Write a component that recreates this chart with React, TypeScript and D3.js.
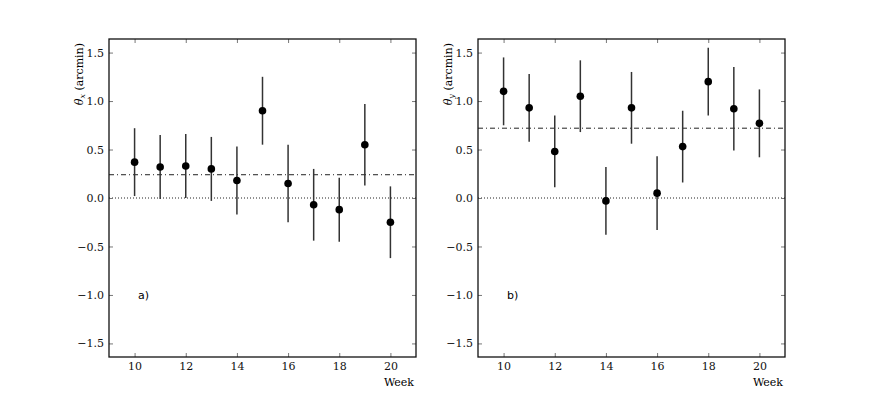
import React, { useEffect, useRef } from "react";
import * as d3 from "d3";

const weeks = [10, 11, 12, 13, 14, 15, 16, 17, 18, 19, 20];
const thetaX = [0.37, 0.32, 0.33, 0.3, 0.18, 0.9, 0.15, -0.07, -0.12, 0.55, -0.25];
const errX = [0.35, 0.33, 0.33, 0.33, 0.35, 0.35, 0.4, 0.37, 0.33, 0.42, 0.37];
const thetaY = [1.1, 0.93, 0.48, 1.05, -0.03, 0.93, 0.05, 0.53, 1.2, 0.92, 0.77];
const errY = [0.35, 0.35, 0.37, 0.37, 0.35, 0.37, 0.38, 0.37, 0.35, 0.43, 0.35];
const meanX = 0.24;
const meanY = 0.72;
const xTicks = [10, 12, 14, 16, 18, 20];
const yTicks = [-1.5, -1.0, -0.5, 0.0, 0.5, 1.0, 1.5];

const panels = [
  { left: 101, vals: thetaX, errs: errX, mean: meanX, sub: "x", tag: "a)" },
  { left: 470, vals: thetaY, errs: errY, mean: meanY, sub: "y", tag: "b)" },
];

const top = 31;
const w = 307;
const h = 318;
const serif = "'DejaVu Serif', 'Liberation Serif', serif";

export default function App() {
  const ref = useRef<SVGSVGElement>(null);

  useEffect(() => {
    const svg = d3.select(ref.current);
    svg.selectAll("*").remove();

    const x = d3.scaleLinear().domain([9, 21]).range([0, w]);
    const y = d3.scaleLinear().domain([-1.64, 1.64]).range([h, 0]);

    panels.forEach((p) => {
      const g = svg.append("g").attr("transform", `translate(${p.left}, ${top})`);

      // reference lines
      g.append("line")
        .attr("x1", 0).attr("x2", w)
        .attr("y1", y(0)).attr("y2", y(0))
        .attr("stroke", "#222").attr("stroke-width", 1)
        .attr("stroke-dasharray", "1,2");
      g.append("line")
        .attr("x1", 0).attr("x2", w)
        .attr("y1", y(p.mean)).attr("y2", y(p.mean))
        .attr("stroke", "#222").attr("stroke-width", 1)
        .attr("stroke-dasharray", "5,3,1,3");

      // error bars + points
      g.selectAll(".err")
        .data(weeks)
        .join("line")
        .attr("class", "err")
        .attr("x1", (d) => x(d)).attr("x2", (d) => x(d))
        .attr("y1", (d, i) => y(p.vals[i] + p.errs[i]))
        .attr("y2", (d, i) => y(p.vals[i] - p.errs[i]))
        .attr("stroke", "#333").attr("stroke-width", 1.5);
      g.selectAll(".pt")
        .data(weeks)
        .join("circle")
        .attr("class", "pt")
        .attr("cx", (d) => x(d))
        .attr("cy", (d, i) => y(p.vals[i]))
        .attr("r", 3.8)
        .attr("fill", "#000");

      // axes with inward ticks on all sides
      const fmt = d3.format(".1f");
      const bottom = g.append("g").attr("transform", `translate(0, ${h})`)
        .call(d3.axisBottom(x).tickValues(xTicks).tickSizeInner(-4).tickSizeOuter(0).tickPadding(5));
      const topAx = g.append("g")
        .call(d3.axisTop(x).tickValues(xTicks).tickSizeInner(-4).tickSizeOuter(0).tickFormat(() => ""));
      const leftAx = g.append("g")
        .call(d3.axisLeft(y).tickValues(yTicks).tickSizeInner(-4).tickSizeOuter(0).tickPadding(5)
          .tickFormat((d) => fmt(d as number).replace("-", "\u2212")));
      const rightAx = g.append("g").attr("transform", `translate(${w}, 0)`)
        .call(d3.axisRight(y).tickValues(yTicks).tickSizeInner(-4).tickSizeOuter(0).tickFormat(() => ""));
      [bottom, topAx, leftAx, rightAx].forEach((a) => {
        a.select(".domain").remove();
        a.attr("font-family", null).attr("font-size", null);
        a.selectAll(".tick line").attr("stroke", "#777");
        a.selectAll("text").style("font-family", serif).style("font-size", "11px").attr("fill", "#111");
      });

      g.append("rect")
        .attr("width", w).attr("height", h)
        .attr("fill", "none").attr("stroke", "#111").attr("stroke-width", 1.3);

      g.append("text")
        .attr("x", w - 2).attr("y", h + 29)
        .attr("text-anchor", "end")
        .style("font-family", serif).style("font-size", "11px")
        .text("Week");

      const lab = g.append("text")
        .attr("transform", `translate(-26, 4) rotate(-90)`)
        .attr("text-anchor", "end")
        .style("font-family", serif).style("font-size", "11px");
      lab.append("tspan").attr("font-style", "italic").text("\u03b8");
      lab.append("tspan").attr("font-size", 8).attr("font-style", "italic").attr("dy", 2).text(p.sub);
      lab.append("tspan").attr("dy", -2).text(" (arcmin)");

      g.append("text")
        .attr("x", 29).attr("y", 260)
        .style("font-family", "'DejaVu Sans', sans-serif").style("font-size", "11px")
        .text(p.tag);
    });
  }, []);

  return <svg ref={ref} width={856} height={390} style={{ display: "block" }} />;
}
